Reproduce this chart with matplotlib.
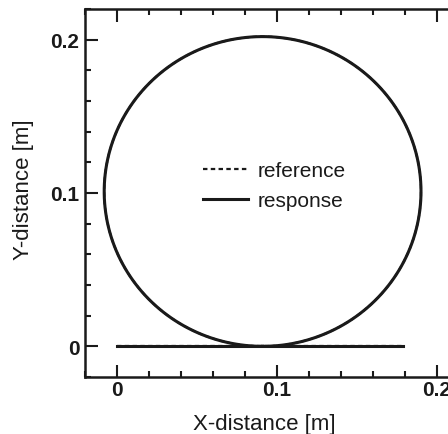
import matplotlib.pyplot as plt
import numpy as np
from matplotlib.ticker import MultipleLocator

plt.rcParams['font.family'] = ['Liberation Sans', 'DejaVu Sans']

# circular path: centre and radius (m)
circle_center = (0.091, 0.101)
circle_radius = (0.099, 0.101)
# straight segment along the x axis (m)
line_x = [0.0, 0.179]
line_y = [0.0, 0.0]

th = np.linspace(0, 2 * np.pi, 400)
cx = circle_center[0] + circle_radius[0] * np.sin(th)
cy = circle_center[1] - circle_radius[1] * np.cos(th)

fig = plt.figure(figsize=(4.48, 4.35), dpi=100)
ax = fig.add_axes([85 / 448, 57 / 435, 384 / 448, 368 / 435])

ink = '#1a1a1a'
# reference (dashed) sits under the response
ax.plot(cx, cy, color=ink, lw=1.6, ls=(0, (2, 1.5)), label='reference')
ax.plot(line_x, line_y, color=ink, lw=1.6, ls=(0, (2, 1.5)))
ax.plot(cx, cy, '-', color=ink, lw=2.2, label='response')
ax.plot(line_x, line_y, '-', color=ink, lw=2.2)

ax.set_xlim(-0.02, 0.22)
ax.set_ylim(-0.02, 0.22)
ax.xaxis.set_minor_locator(MultipleLocator(0.02))
ax.yaxis.set_minor_locator(MultipleLocator(0.02))
ax.set_xticks([0, 0.1, 0.2], ['0', '0.1', '0.2'])
ax.set_yticks([0, 0.1, 0.2], ['0', '0.1', '0.2'])
ax.tick_params(which='both', direction='in', top=True, right=True,
               width=1.5, labelsize=15, color=ink)
ax.tick_params(axis='x', pad=2)
ax.tick_params(axis='y', pad=4)
ax.tick_params(which='major', length=9)
ax.tick_params(which='minor', length=4)
for lab in ax.get_xticklabels() + ax.get_yticklabels():
    lab.set_fontweight('bold')
    lab.set_color(ink)
for s in ax.spines.values():
    s.set_linewidth(1.8)
    s.set_color(ink)

ax.set_xlabel('X-distance [m]', fontsize=16, color=ink)
ax.set_ylabel('Y-distance [m]', fontsize=16, color=ink)
ax.xaxis.set_label_coords(0.466, -0.098)
ax.yaxis.set_label_coords(-0.132, 0.511)

ax.legend(loc='upper left', bbox_to_anchor=(203 / 448, 1 - 162 / 435),
          bbox_transform=fig.transFigure, frameon=False, fontsize=15,
          borderpad=0, borderaxespad=0, handlelength=2.15,
          handletextpad=0.45, labelspacing=0.54, labelcolor=ink)

fig.savefig('out.png', dpi=100)
